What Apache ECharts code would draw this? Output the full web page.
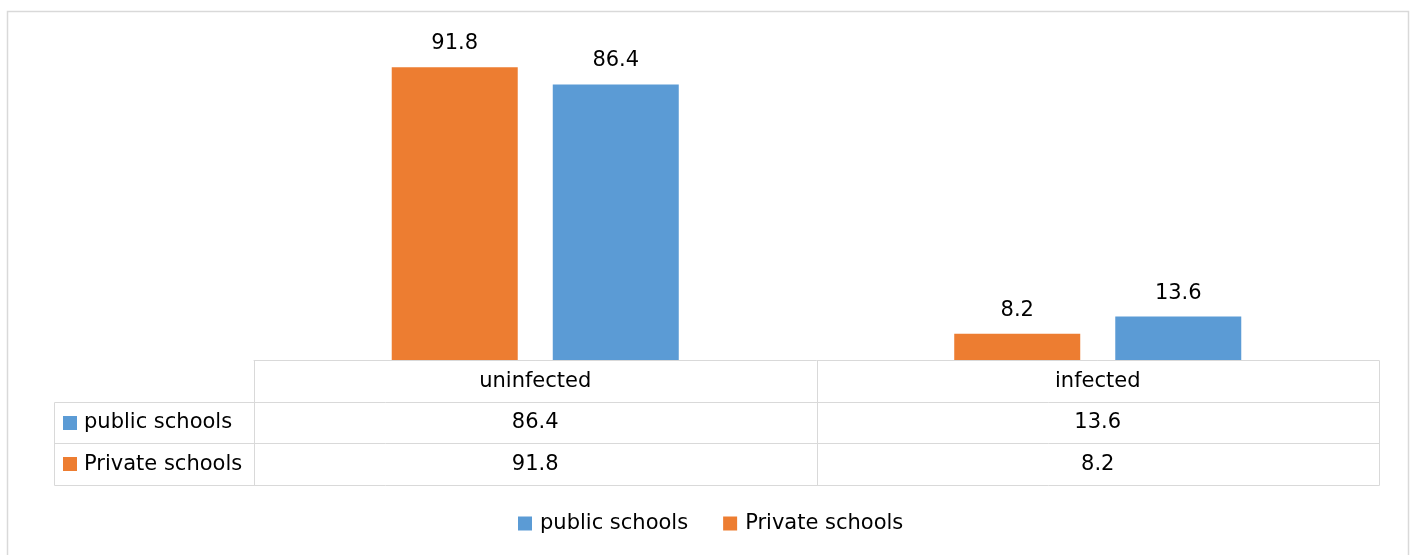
<!DOCTYPE html>
<html>
<head>
<meta charset="utf-8">
<script src="https://cdn.jsdelivr.net/npm/echarts@6/dist/echarts.min.js"></script>
<style>
html,body{margin:0;padding:0;background:#fff;}
#chart{width:1412px;height:555px;}
</style>
</head>
<body>
<div id="chart"></div>
<script>
const categories = ['uninfected', 'infected'];
const seriesNames = ['public schools', 'Private schools'];
const publicValues = [86.4, 13.6];
const privateValues = [91.8, 8.2];
const colors = { 'public schools': '#5B9BD5', 'Private schools': '#ED7D31' };

const FONT = 'DejaVu Sans';
const FS = 21;
const chart = echarts.init(document.getElementById('chart'));

const labelStyle = {
  show: true, position: 'top', distance: 13,
  fontFamily: FONT, fontSize: FS, color: '#000'
};

chart.setOption({
  animation: false,
  textStyle: { fontFamily: FONT },
  legend: {
    data: seriesNames,
    left: 513, top: 508,
    icon: 'rect', itemWidth: 14, itemHeight: 14, itemGap: 35,
    textStyle: { fontFamily: FONT, fontSize: FS, color: '#000', padding: [0, 0, 0, 3] }
  },
  grid: { left: 254, right: 33, top: 41, bottom: 195, containLabel: false },
  xAxis: {
    type: 'category', data: categories,
    axisLine: { show: true, lineStyle: { color: '#d9d9d9', width: 1 } },
    axisTick: { show: false },
    axisLabel: { fontFamily: FONT, fontSize: FS, color: '#000', margin: 11 }
  },
  yAxis: { type: 'value', min: 0, max: 100, show: false, splitLine: { show: false } },
  series: [
    { name: 'Private schools', type: 'bar', data: privateValues, barWidth: 126, barGap: '27.8%',
      itemStyle: { color: colors['Private schools'] }, label: labelStyle },
    { name: 'public schools', type: 'bar', data: publicValues, barWidth: 126, barGap: '27.8%',
      itemStyle: { color: colors['public schools'] }, label: labelStyle }
  ]
});

// Build the data table from the axis positions
const cx = categories.map((c, i) => chart.convertToPixel({ xAxisIndex: 0 }, i));
const step = cx[1] - cx[0];
const colEdges = [cx[0] - step / 2];
cx.forEach(x => colEdges.push(x + step / 2));
const yBase = chart.convertToPixel({ yAxisIndex: 0 }, 0);
const rowH = 41.7;
const tableLeft = colEdges[0] - 200;
const rows = [
  { name: 'public schools', values: publicValues },
  { name: 'Private schools', values: privateValues }
];
const lineColor = '#d9d9d9';
const r = v => Math.round(v) + 0.5;
const els = [];
// outer chart border
els.push({ type: 'rect', shape: { x: 7.5, y: 11.5, width: 1401, height: 600 },
  style: { fill: null, stroke: lineColor, lineWidth: 1.5 }, silent: true });
const yRows = [yBase, yBase + rowH, yBase + 2 * rowH, yBase + 3 * rowH];
// horizontal lines
for (let k = 1; k < yRows.length; k++) {
  els.push({ type: 'line', shape: { x1: r(tableLeft), y1: r(yRows[k]), x2: r(colEdges[colEdges.length - 1]), y2: r(yRows[k]) },
    style: { stroke: lineColor, lineWidth: 1 } });
}
// vertical lines of value columns
colEdges.forEach(x => {
  els.push({ type: 'line', shape: { x1: r(x), y1: r(yRows[0]), x2: r(x), y2: r(yRows[3]) },
    style: { stroke: lineColor, lineWidth: 1 } });
});
// left edge of the row-label column
els.push({ type: 'line', shape: { x1: r(tableLeft), y1: r(yRows[1]), x2: r(tableLeft), y2: r(yRows[3]) },
  style: { stroke: lineColor, lineWidth: 1 } });
rows.forEach((row, k) => {
  const yc = (yRows[k + 1] + yRows[k + 2]) / 2;
  els.push({ type: 'rect', shape: { x: tableLeft + 9, y: Math.round(yc - 7), width: 14, height: 14 },
    style: { fill: colors[row.name] } });
  els.push({ type: 'text', x: tableLeft + 30, y: yc,
    style: { text: row.name, fontFamily: FONT, fontSize: FS, fill: '#000', verticalAlign: 'middle', align: 'left' } });
  row.values.forEach((v, i) => {
    els.push({ type: 'text', x: cx[i], y: yc,
      style: { text: String(v), fontFamily: FONT, fontSize: FS, fill: '#000', verticalAlign: 'middle', align: 'center' } });
  });
});
chart.setOption({ graphic: { elements: els } });
</script>
</body>
</html>
